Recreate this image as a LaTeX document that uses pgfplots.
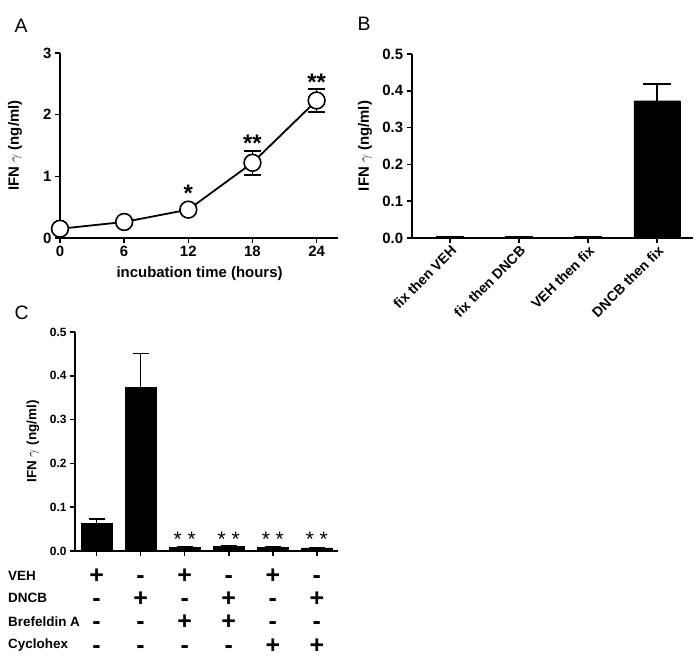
\documentclass[border=0pt]{standalone}
\usepackage{pgfplots}
\pgfplotsset{compat=1.18}
\usepackage{fontspec}
\setmainfont{Liberation Sans}
\newcommand{\fs}[1]{\fontsize{#1}{#1}\selectfont}
\newcommand{\cell}[3]{\node[font=\bfseries\fs{25}, anchor=base, inner sep=0pt] at ([yshift=#2]axis cs:#1,0) {#3};}
\begin{document}
\begin{tikzpicture}
\path[use as bounding box] (0bp,0bp) rectangle (697bp,-660bp);
\pgfplotsset{
  every axis/.append style={
    scale only axis, axis lines*=left,
    axis line style={line width=1.8bp, -},
    tick align=outside, major tick length=5bp,
    every tick/.style={line width=1.6bp, black},
    /pgf/number format/assume math mode=true,
    tick label style={font=\bfseries\fs{15}},
    clip=false,
  }
}
% Panel letters
\node[font=\fs{19.5}, anchor=base west] at (11bp,-32bp) {A};
\node[font=\fs{19.5}, anchor=base west] at (354bp,-30bp) {B};
\node[font=\fs{19.5}, anchor=base west] at (11bp,-319bp) {C};

% ---------- Panel A ----------
\begin{axis}[at={(60bp,-238bp)}, anchor=south west, width=278bp, height=185bp,
  xmin=0, xmax=26, ymin=0, ymax=3,
  xtick={0,6,12,18,24}, ytick={0,1,2,3},
  xlabel={incubation time (hours)},
  ylabel={IFN {\mdseries$\gamma$} (ng/ml)},
  every axis x label/.style={at={(axis description cs:0.502,-0.195)}, anchor=center, font=\bfseries\fs{15}},
  every axis y label/.style={at={(axis description cs:-0.162,0.5)}, rotate=90, anchor=center, font=\bfseries\fs{15}},
]
\addplot[black, line width=1.8bp, mark=*, mark size=8.4bp,
  mark options={fill=white, draw=black, line width=1.6bp, solid},
  error bars/.cd, y dir=both, y explicit,
  error bar style={line width=1.6bp, black},
  error mark options={rotate=90, mark size=8.5bp, line width=1.6bp, black}]
  coordinates {
  (0,0.15) +- (0,0.02)
  (6,0.26) +- (0,0.02)
  (12,0.46) +- (0,0.03)
  (18,1.22) +- (0,0.195)
  (24,2.23) +- (0,0.185)
  };
\node[font=\bfseries\fs{24}, anchor=base] at (axis cs:12,0.59) {*};
\node[font=\bfseries\fs{24}, anchor=base] at (axis cs:18,1.40) {**};
\node[font=\bfseries\fs{24}, anchor=base] at (axis cs:24,2.39) {**};
\end{axis}

% ---------- Panel B ----------
\begin{axis}[at={(411.7bp,-238bp)}, anchor=south west, width=281.3bp, height=184bp,
  xmin=-0.555, xmax=3.52, ymin=0, ymax=0.5,
  ytick={0,0.1,0.2,0.3,0.4,0.5},
  yticklabel style={/pgf/number format/.cd, fixed, fixed zerofill, precision=1},
  xtick={0,1,2,3},
  xticklabels={fix then VEH, fix then DNCB, VEH then fix, DNCB then fix},
  xticklabel style={rotate=45, anchor=north east, font=\bfseries\fs{14}, inner sep=1pt},
  ylabel={IFN {\mdseries$\gamma$} (ng/ml)},
  every axis y label/.style={at={(axis description cs:-0.166,0.5)}, rotate=90, anchor=center, font=\bfseries\fs{15}},
]
\addplot[ybar, bar width=0.67, fill=black, draw=black,
  error bars/.cd, y dir=plus, y explicit,
  error bar style={line width=1.6bp, black},
  error mark options={rotate=90, mark size=14bp, line width=1.6bp, black}]
  coordinates {
  (0,0.002) +- (0,0)
  (1,0.002) +- (0,0)
  (2,0.002) +- (0,0)
  (3,0.373) +- (0,0.045)
  };
\end{axis}

% ---------- Panel C ----------
\begin{axis}[at={(75bp,-551bp)}, anchor=south west, width=263bp, height=219bp,
  xmin=-0.49, xmax=5.48, ymin=0, ymax=0.5,
  ytick={0,0.1,0.2,0.3,0.4,0.5},
  yticklabel style={font=\bfseries\fs{12}, /pgf/number format/.cd, fixed, fixed zerofill, precision=1},
  xtick={0,1,2,3,4,5},
  xticklabels={{},{},{},{},{},{}},
  ylabel={IFN {\mdseries$\gamma$} (ng/ml)},
  every axis y label/.style={at={(axis description cs:-0.16,0.5)}, rotate=90, anchor=center, font=\bfseries\fs{13.5}},
]
\addplot[ybar, bar width=0.7, fill=black, draw=black,
  error bars/.cd, y dir=plus, y explicit,
  error bar style={line width=1.6bp, black},
  error mark options={rotate=90, mark size=8bp, line width=1.6bp, black}]
  coordinates {
  (0,0.063) +- (0,0.010)
  (1,0.374) +- (0,0.077)
  (2,0.009) +- (0,0.001)
  (3,0.011) +- (0,0.002)
  (4,0.009) +- (0,0.001)
  (5,0.007) +- (0,0.001)
  };
\node[font=\fs{21}, anchor=base] at (axis cs:2,0.011) {* *};
\node[font=\fs{21}, anchor=base] at (axis cs:3,0.011) {* *};
\node[font=\fs{21}, anchor=base] at (axis cs:4,0.011) {* *};
\node[font=\fs{21}, anchor=base] at (axis cs:5,0.011) {* *};
% treatment table
\cell{0}{-32.5bp}{+}\cell{1}{-32.5bp}{-}\cell{2}{-32.5bp}{+}\cell{3}{-32.5bp}{-}\cell{4}{-32.5bp}{+}\cell{5}{-32.5bp}{-}
\cell{0}{-55.7bp}{-}\cell{1}{-55.7bp}{+}\cell{2}{-55.7bp}{-}\cell{3}{-55.7bp}{+}\cell{4}{-55.7bp}{-}\cell{5}{-55.7bp}{+}
\cell{0}{-78.9bp}{-}\cell{1}{-78.9bp}{-}\cell{2}{-78.9bp}{+}\cell{3}{-78.9bp}{+}\cell{4}{-78.9bp}{-}\cell{5}{-78.9bp}{-}
\cell{0}{-102.1bp}{-}\cell{1}{-102.1bp}{-}\cell{2}{-102.1bp}{-}\cell{3}{-102.1bp}{-}\cell{4}{-102.1bp}{+}\cell{5}{-102.1bp}{+}
\end{axis}
\node[font=\bfseries\fs{13.5}, anchor=base west, inner sep=0pt] at (8bp,-580bp) {VEH};
\node[font=\bfseries\fs{13.5}, anchor=base west, inner sep=0pt] at (8bp,-602bp) {DNCB};
\node[font=\bfseries\fs{13.5}, anchor=base west, inner sep=0pt] at (8bp,-626bp) {Brefeldin A};
\node[font=\bfseries\fs{13.5}, anchor=base west, inner sep=0pt] at (8bp,-648bp) {Cyclohex};
\end{tikzpicture}
\end{document}
